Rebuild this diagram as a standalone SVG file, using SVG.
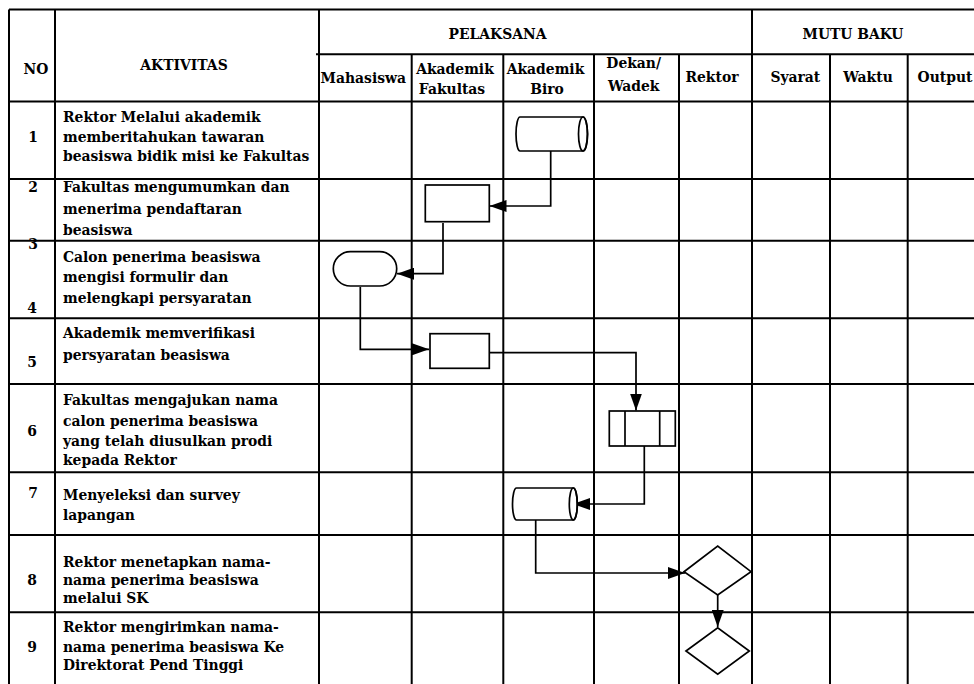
<svg xmlns="http://www.w3.org/2000/svg" width="974" height="684" viewBox="0 0 974 684">
<style>
.grid line{stroke:#000;stroke-width:2}
.t{font-family:"DejaVu Serif","Liberation Serif",serif;font-weight:bold;font-size:13.9px;fill:#000}
.c{text-anchor:middle}
.s{fill:#fff;stroke:#000;stroke-width:1.7}
.e{fill:none;stroke:#000;stroke-width:1.7}
</style>
<defs>
<marker id="ah" markerUnits="userSpaceOnUse" markerWidth="18" markerHeight="12" refX="17" refY="6" orient="auto">
<path d="M0,0 L17,6 L0,12 z" fill="#000"/>
</marker>
</defs>
<rect width="974" height="684" fill="#fff"/>
<g id="table" class="grid">
<line x1="9" y1="9.5" x2="974" y2="9.5"/>
<line x1="316" y1="54.3" x2="974" y2="54.3"/>
<line x1="9" y1="101.5" x2="974" y2="101.5"/>
<line x1="9" y1="179" x2="974" y2="179"/>
<line x1="9" y1="240.7" x2="974" y2="240.7"/>
<line x1="9" y1="318.3" x2="974" y2="318.3"/>
<line x1="9" y1="384" x2="974" y2="384"/>
<line x1="9" y1="472.3" x2="974" y2="472.3"/>
<line x1="9" y1="535" x2="974" y2="535"/>
<line x1="9" y1="612.3" x2="974" y2="612.3"/>
<line x1="9" y1="9.5" x2="9" y2="684"/>
<line x1="55" y1="9.5" x2="55" y2="684"/>
<line x1="319" y1="9.5" x2="319" y2="684"/>
<line x1="411.7" y1="54.3" x2="411.7" y2="684"/>
<line x1="503.3" y1="54.3" x2="503.3" y2="684"/>
<line x1="594" y1="54.3" x2="594" y2="684"/>
<line x1="679" y1="54.3" x2="679" y2="684"/>
<line x1="752" y1="9.5" x2="752" y2="684"/>
<line x1="830" y1="54.3" x2="830" y2="684"/>
<line x1="907.7" y1="54.3" x2="907.7" y2="684"/>
</g>
<g id="header" class="t">
<text class="c" x="36" y="74">NO</text>
<text class="c" x="184" y="70">AKTIVITAS</text>
<text class="c" x="497.5" y="38.5">PELAKSANA</text>
<text class="c" x="853" y="39.3">MUTU BAKU</text>
<text class="c" x="363.3" y="83">Mahasiswa</text>
<text class="c" x="455" y="74">Akademik</text>
<text class="c" x="452" y="94">Fakultas</text>
<text class="c" x="545.5" y="74">Akademik</text>
<text class="c" x="547" y="94">Biro</text>
<text class="c" x="633.7" y="68">Dekan/</text>
<text class="c" x="633.7" y="91">Wadek</text>
<text class="c" x="712" y="82">Rektor</text>
<text class="c" x="795.3" y="82">Syarat</text>
<text class="c" x="868" y="82">Waktu</text>
<text class="c" x="945" y="82">Output</text>
</g>
<g id="rows" class="t">
<text class="c" x="33" y="142">1</text>
<text x="63" y="122">Rektor Melalui akademik</text>
<text x="63" y="141.5">memberitahukan tawaran</text>
<text x="63" y="161">beasiswa bidik misi ke Fakultas</text>
<text class="c" x="33" y="191.5">2</text>
<text x="63" y="191.5">Fakultas mengumumkan dan</text>
<text x="63" y="213.5">menerima pendaftaran</text>
<text x="63" y="234.5">beasiswa</text>
<text class="c" x="33" y="249">3</text>
<text x="63" y="262">Calon penerima beasiswa</text>
<text x="63" y="282">mengisi formulir dan</text>
<text x="63" y="302.5">melengkapi persyaratan</text>
<text class="c" x="32" y="313">4</text>
<text x="63" y="338">Akademik memverifikasi</text>
<text x="63" y="360">persyaratan beasiswa</text>
<text class="c" x="32" y="366.5">5</text>
<text x="63" y="405">Fakultas mengajukan nama</text>
<text x="63" y="425.5">calon penerima beasiswa</text>
<text x="63" y="445.5">yang telah diusulkan prodi</text>
<text x="63" y="465">kepada Rektor</text>
<text class="c" x="32" y="436">6</text>
<text class="c" x="33" y="498">7</text>
<text x="63" y="500">Menyeleksi dan survey</text>
<text x="63" y="520">lapangan</text>
<text class="c" x="32" y="585">8</text>
<text x="63" y="567">Rektor menetapkan nama-</text>
<text x="63" y="585">nama penerima beasiswa</text>
<text x="63" y="603">melalui SK</text>
<text class="c" x="32" y="652">9</text>
<text x="63" y="631.5">Rektor mengirimkan nama-</text>
<text x="63" y="651.5">nama penerima beasiswa Ke</text>
<text x="63" y="670">Direktorat Pend Tinggi</text>
</g>
<g id="connectors" fill="none" stroke="#000" stroke-width="1.7">
<path d="M550.7,150 V206 H489.5" marker-end="url(#ah)"/>
<path d="M443,223 V273.7 H397" marker-end="url(#ah)"/>
<path d="M360.3,287 V349.3 H429" marker-end="url(#ah)"/>
<path d="M489.3,352.7 H636 V410.5" marker-end="url(#ah)"/>
<path d="M644.3,446 V504 H573" marker-end="url(#ah)"/>
<path d="M535.7,520 V573 H685" marker-end="url(#ah)"/>
<path d="M717.7,595 V627" marker-end="url(#ah)"/>
</g>
<g id="n1">
<path class="s" d="M520,117 H583 A4.5,17 0 0 1 583,151 H520 A4,17 0 0 1 520,117 Z"/>
<ellipse class="e" cx="583" cy="134" rx="4.5" ry="17"/>
</g>
<g id="n2"><rect class="s" x="425.3" y="185" width="64" height="36.7"/></g>
<g id="n3"><rect class="s" x="333.3" y="251.7" width="63.4" height="34.3" rx="17.15"/></g>
<g id="n4"><rect class="s" x="430" y="333.7" width="59.3" height="34.6"/></g>
<g id="n5">
<rect class="s" x="609.3" y="411" width="66" height="35"/>
<line class="e" x1="625" y1="411" x2="625" y2="446"/>
<line class="e" x1="659.7" y1="411" x2="659.7" y2="446"/>
</g>
<g id="n6">
<path class="s" d="M516.5,488 H573.3 A4,16 0 0 1 573.3,520 H516.5 A4,16 0 0 1 516.5,488 Z"/>
<ellipse class="e" cx="573.3" cy="504" rx="4" ry="16"/>
</g>
<g id="n7"><path class="s" d="M684,571.7 L717.7,546 L751,571.7 L717.7,595 Z"/></g>
<g id="n8"><path class="s" d="M686,651 L717.7,627.7 L749.3,651 L717.7,674.3 Z"/></g>
</svg>
